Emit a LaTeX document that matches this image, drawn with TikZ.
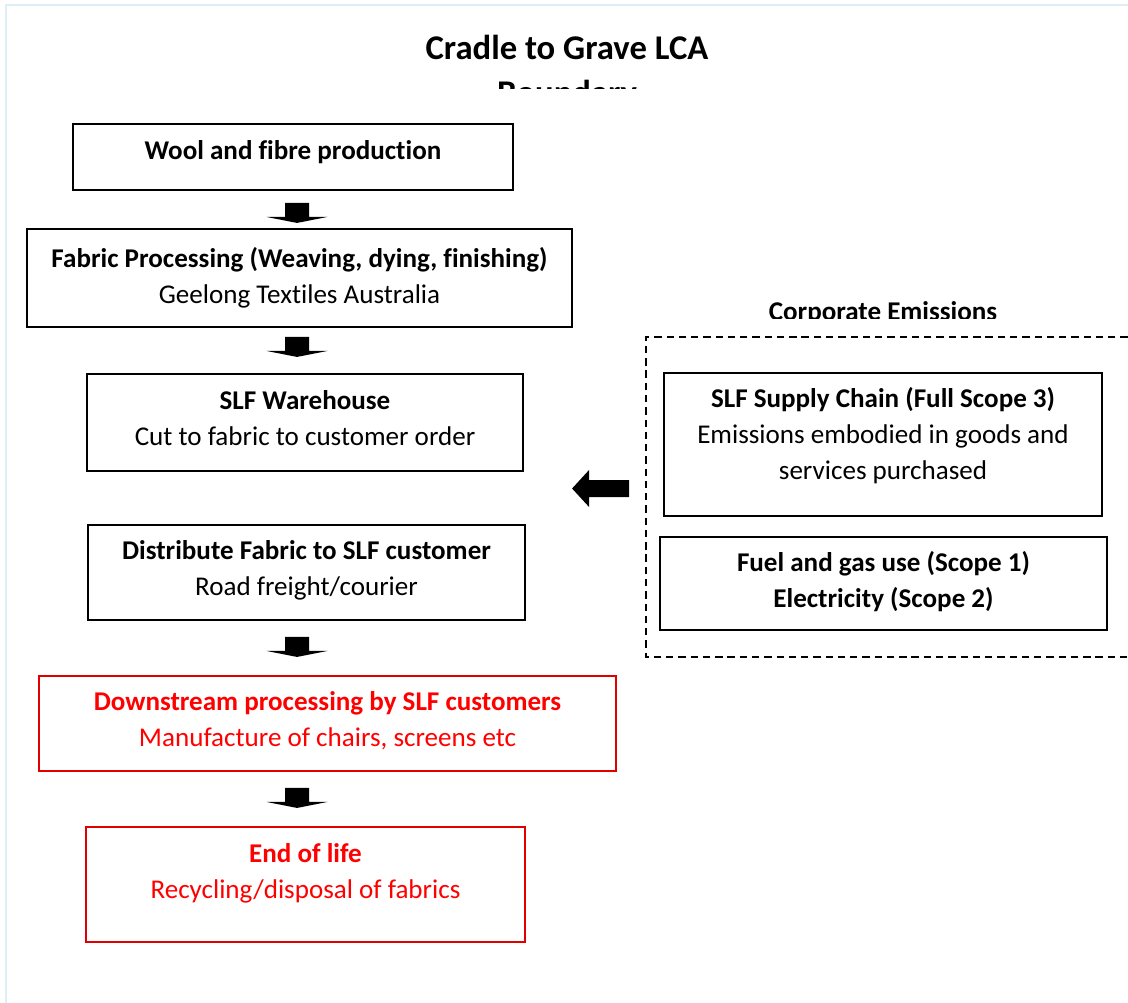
\documentclass[tikz,border=0pt]{standalone}
\usepackage{fontspec}
\setmainfont[Ligatures=CommonOff]{Carlito}
\usetikzlibrary{calc}
\definecolor{frameblue}{HTML}{DDEEF6}
\definecolor{lcared}{HTML}{FF0000}
\definecolor{lcaredline}{HTML}{E00000}
\begin{document}
\begin{tikzpicture}[x=0.75pt,y=-0.75pt,
  box/.style={draw=black,line width=1.4pt,inner sep=0pt},
  redbox/.style={draw=lcaredline,line width=1.4pt,inner sep=0pt},
  txt/.style={align=center,inner sep=0pt,font=\fontsize{20.3}{27}\selectfont},
  redtxt/.style={txt,text=lcared},
  darr/.pic={\fill[black] (-12,0) -- (12,0) -- (12,14) -- (30.5,14) -- (0,20) -- (-30.5,14) -- (-12,14) -- cycle;},
  larr/.pic={\fill[black] (0,0) -- (17,-18.5) -- (17,-8.5) -- (57,-8.5) -- (57,8.5) -- (17,8.5) -- (17,18.5) -- cycle;}
]
\useasboundingbox (0,0) rectangle (1128,1003);
\fill[white] (0,0) rectangle (1128,1003);
% light frame
\draw[frameblue,line width=1.5pt] (6,1003) -- (6,5) -- (1128,5);

% title (second line cut off)
\node[anchor=base,inner sep=0pt,font=\fontsize{26}{31.5}\selectfont\bfseries] (title) at (567,59) {Cradle to Grave LCA};
\begin{scope}
  \clip (0,0) rectangle (1128,88);
  \node[anchor=base,inner sep=0pt,font=\fontsize{26}{31.5}\selectfont\bfseries] (title2) at (567,104) {Boundary};
\end{scope}

% left column boxes
\node[box,minimum width=440*0.75pt,minimum height=66*0.75pt] (b1) at (293,157) {};
\node[txt] (t1) at (293,152) {\bfseries Wool and fibre production};

\node[box,minimum width=545*0.75pt,minimum height=98*0.75pt] (b2) at (299.5,278) {};
\node[txt] (t2) at (299.5,278) {\bfseries Fabric Processing (Weaving, dying, finishing)\\Geelong Textiles Australia};

\node[box,minimum width=436*0.75pt,minimum height=97*0.75pt] (b3) at (305,422.5) {};
\node[txt] (t3) at (305,418.5) {\bfseries SLF Warehouse\\Cut to fabric to customer order};

\node[box,minimum width=437*0.75pt,minimum height=95*0.75pt] (b4) at (306.5,572.5) {};
\node[txt] (t4) at (306.5,570.5) {\bfseries Distribute Fabric to SLF customer\\Road freight/courier};

\node[redbox,minimum width=577*0.75pt,minimum height=95*0.75pt] (b5) at (327.5,723.5) {};
\node[redtxt] (t5) at (327.5,721) {\bfseries Downstream processing by SLF customers\\Manufacture of chairs, screens etc};

\node[redbox,minimum width=439*0.75pt,minimum height=115*0.75pt] (b6) at (305.5,884.5) {};
\node[redtxt] (t6) at (305.5,873) {\bfseries End of life\\Recycling/disposal of fabrics};

% block arrows
\pic at ($(b1.south)+(4,12)$) {darr};
\pic at ($(b2.south)+(-2.5,9)$) {darr};
\pic at ($(b4.south)+(-9.5,16)$) {darr};
\pic at ($(b5.south)+(-30.5,16)$) {darr};

% corporate emissions
\begin{scope}
  \clip (0,0) rectangle (1128,318);
  \node[anchor=base,inner sep=0pt,font=\fontsize{20.3}{24}\selectfont\bfseries] (ce) at (883,320) {Corporate Emissions};
\end{scope}
\coordinate (dl) at (646,337);
\coordinate (dr) at (1140,657);
\draw[line width=1.2pt,dash pattern=on 5.5pt off 3.7pt] (1140,337) -- (dl) |- (dr);

\node[box,minimum width=438*0.75pt,minimum height=143*0.75pt] (s1) at (883,444.5) {};
\node[txt] (st1) at (883,436) {\bfseries SLF Supply Chain (Full Scope 3)\\Emissions embodied in goods and\\services purchased};

\node[box,minimum width=447*0.75pt,minimum height=93*0.75pt] (s2) at (883.5,583.5) {};
\node[txt] (st2) at (883.5,582) {\bfseries Fuel and gas use (Scope 1)\\\bfseries Electricity (Scope 2)};

\pic at ($(s1.west)+(-91,44)$) {larr};
\end{tikzpicture}
\end{document}
